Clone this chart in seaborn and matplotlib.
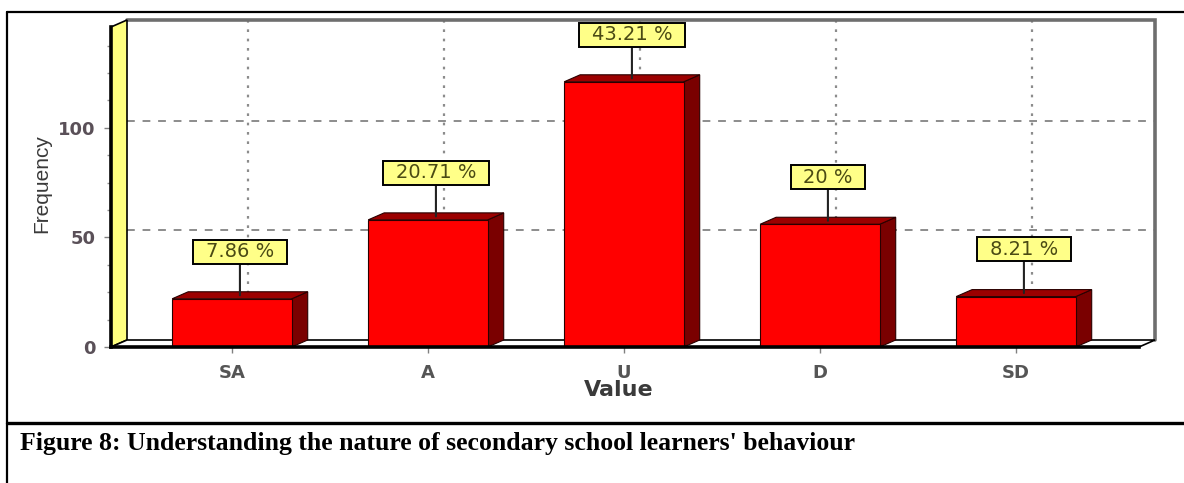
import numpy as np
import pandas as pd
import matplotlib
matplotlib.use("Agg")
import matplotlib.pyplot as plt
import seaborn as sns
from matplotlib.patches import Polygon
from matplotlib.lines import Line2D
from matplotlib.ticker import MultipleLocator

# ---- data ----
categories = ["SA", "A", "U", "D", "SD"]
counts = [22, 58, 121, 56, 23]
percent_labels = ["7.86 %", "20.71 %", "43.21 %", "20 %", "8.21 %"]
y_ticks = [0, 50, 100]
x_label = "Value"
y_label = "Frequency"
caption = "Figure 8: Understanding the nature of secondary school learners' behaviour"

sns.set_theme(style="white")
plt.rcParams["font.family"] = ["DejaVu Sans"]

W, H = 1184, 483
fig = plt.figure(figsize=(W / 100, H / 100), dpi=100)
fig.patch.set_facecolor("white")

# front plane of the pseudo-3D plot
L, R, T, B = 111, 1139, 27, 347
ax = fig.add_axes([L / W, 1 - B / H, (R - L) / W, (B - T) / H])
ax.set_facecolor("white")

df = pd.DataFrame({x_label: categories, y_label: counts})
bw = 0.61
sns.barplot(data=df, x=x_label, y=y_label, color="#ff0000", saturation=1,
            width=bw, edgecolor="#2a0000", linewidth=0.8, ax=ax, zorder=5)

xmin, xmax = -0.617, 4.628
ymax = 146
ax.set_xlim(xmin, xmax)
ax.set_ylim(0, ymax)

# depth offset (pixels -> data units)
dxd = 16 * (xmax - xmin) / (R - L)
dyd = 7 * ymax / (B - T)

# back wall grid
for y in [50, 100]:
    ax.plot([xmin + dxd, xmax + dxd], [y + dyd, y + dyd], ls=(0, (4, 4)),
            color="#8c8c8c", lw=1.4, zorder=1, clip_on=False)
for i in range(len(categories)):
    ax.plot([i + dxd, i + dxd], [dyd, ymax + dyd], ls=(0, (1.2, 3)),
            color="#8c8c8c", lw=1.6, zorder=1, clip_on=False)
# back wall border
ax.plot([xmin + dxd, xmax + dxd, xmax + dxd], [ymax + dyd, ymax + dyd, dyd],
        color="#6e6e6e", lw=2.6, zorder=1, clip_on=False, solid_joinstyle="miter")

# left wall (yellow) and floor
ax.add_patch(Polygon([(xmin, 0), (xmin, ymax), (xmin + dxd, ymax + dyd), (xmin + dxd, dyd)],
                     closed=True, fc="#ffff80", ec="black", lw=1.2, zorder=2, clip_on=False))
ax.add_patch(Polygon([(xmin, 0), (xmax, 0), (xmax + dxd, dyd), (xmin + dxd, dyd)],
                     closed=True, fc="white", ec="black", lw=1.2, zorder=2, clip_on=False))

# 3D sides and tops of bars
for i, v in enumerate(counts):
    x0, x1 = i - bw / 2, i + bw / 2
    ax.add_patch(Polygon([(x1, 0), (x1, v), (x1 + dxd, v + dyd), (x1 + dxd, dyd)],
                         closed=True, fc="#7a0000", ec="#2a0000", lw=0.8, zorder=4, clip_on=False))
    ax.add_patch(Polygon([(x0, v), (x1, v), (x1 + dxd, v + dyd), (x0 + dxd, v + dyd)],
                         closed=True, fc="#9c0000", ec="#2a0000", lw=0.8, zorder=4, clip_on=False))

# percentage labels with leader lines
for i, (v, lab) in enumerate(zip(counts, percent_labels)):
    xc = i + dxd / 2
    ax.annotate(lab, xy=(xc, v + dyd / 2), xytext=(xc, v + 21.5),
                ha="center", va="center", fontsize=14, color="#4a4a14",
                bbox=dict(boxstyle="square,pad=0.65", fc="#ffff88", ec="black",
                          lw=1.4, mutation_aspect=0.2),
                arrowprops=dict(arrowstyle="-", color="#222222", lw=1.5,
                                shrinkA=0, shrinkB=0),
                zorder=8, annotation_clip=False)

# spines
for s in ["top", "right"]:
    ax.spines[s].set_visible(False)
for s in ["left", "bottom"]:
    ax.spines[s].set_visible(True)
    ax.spines[s].set_color("black")
    ax.spines[s].set_linewidth(2.6)
    ax.spines[s].set_zorder(6)

# ticks
ax.set_yticks(y_ticks)
ax.yaxis.set_minor_locator(MultipleLocator(12.5))
ax.tick_params(axis="y", which="major", left=True, direction="out", length=5,
               width=1, color="#808080", labelsize=13, labelcolor="#5a5058", pad=6)
ax.tick_params(axis="y", which="minor", left=True, direction="out", length=3,
               width=1, color="#909090")
ax.tick_params(axis="x", which="major", bottom=True, direction="out", length=4,
               width=1, color="#808080", labelsize=13, labelcolor="#555555", pad=8)
for t in ax.get_xticklabels() + ax.get_yticklabels():
    t.set_fontweight("bold")
ax.grid(False)

# axis labels
ax.set_xlabel(x_label, fontsize=16, color="#3a3a3a", va="baseline", fontweight="bold")
ax.xaxis.set_label_coords((619 - L) / (R - L), (B - 396) / (B - T))
ax.set_ylabel(y_label, fontsize=15, color="#3a3a3a", va="center",
              family=["Liberation Sans"])
ax.yaxis.set_label_coords((42 - L) / (R - L), (B - 184) / (B - T))

# caption and frame lines
fig.text(20 / W, 1 - 450 / H, caption, fontfamily=["Liberation Serif"],
         fontweight="bold", fontsize=18.5, va="baseline", ha="left", color="black")
fig.add_artist(Line2D([7 / W, 1], [1 - 12 / H, 1 - 12 / H], color="black", lw=1.6,
                      transform=fig.transFigure))
fig.add_artist(Line2D([7 / W, 7 / W], [1 - 12 / H, 0], color="black", lw=1.6,
                      transform=fig.transFigure))
fig.add_artist(Line2D([7 / W, 1], [1 - 423 / H, 1 - 423 / H], color="black", lw=2.4,
                      transform=fig.transFigure))

fig.savefig("out.png", dpi=100)
